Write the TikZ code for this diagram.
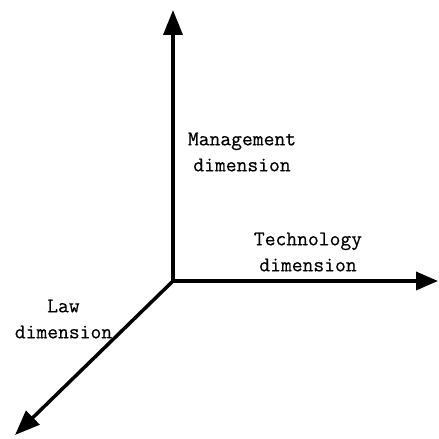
\documentclass[tikz,border=0pt]{standalone}
\usepackage{fontspec}
\setmonofont[FakeBold=0.5]{Latin Modern Mono}
\usetikzlibrary{arrows.meta}
\begin{document}
\begin{tikzpicture}[x=1pt,y=1pt,
  axis/.style={line width=3.5pt,-{Triangle[length=25pt,width=19pt]}},
  lbl/.style={align=center,inner sep=0pt,font=\fontsize{21}{26}\selectfont\ttfamily}]
\useasboundingbox (0,0) rectangle (439,439);
\coordinate (o) at (173,158);
\coordinate (top) at (173,429);
\coordinate (right) at (438,158);
\coordinate (diag) at (15,4);
\draw[line width=3.5pt,line join=miter,{Triangle[length=25pt,width=19pt]}-{Triangle[length=22pt,width=18pt]}] (top) -- (o) -- (right);
\draw[axis] (o) -- (diag);
\node[lbl] (mgmt) at (242,287) {Management\\dimension};
\node[lbl] (tech) at (308,187) {Technology\\dimension};
\node[lbl] (law) at (63.5,120) {Law\\dimension};
\end{tikzpicture}
\end{document}
